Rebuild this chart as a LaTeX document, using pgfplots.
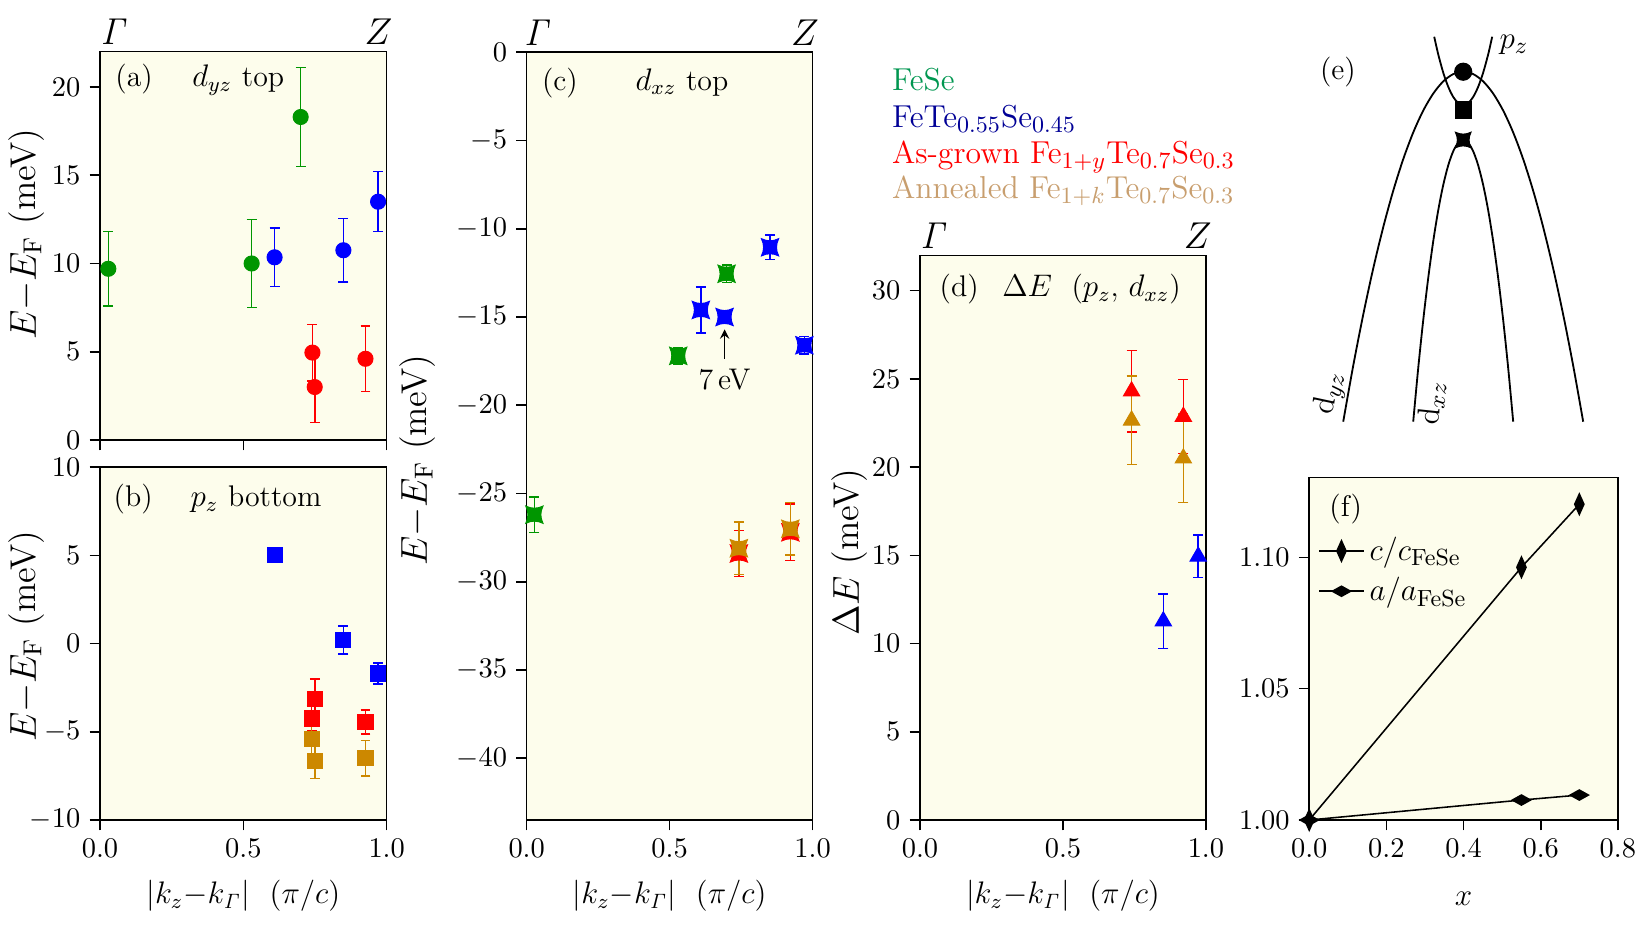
\documentclass[border=0pt]{standalone}
\usepackage{amsmath}
\usepackage{pgfplots}
\pgfplotsset{compat=1.18}
\definecolor{bgc}{RGB}{253,253,236}
\definecolor{cg}{RGB}{0,150,0}
\definecolor{cb}{RGB}{0,0,255}
\definecolor{cr}{RGB}{255,0,0}
\definecolor{co}{RGB}{204,136,0}
\definecolor{tg}{RGB}{0,150,80}
\definecolor{tb}{RGB}{0,0,150}
\definecolor{tt}{RGB}{200,158,110}

\pgfdeclareplotmark{astar}{%
  \pgfpathmoveto{\pgfqpoint{-\pgfplotmarksize}{\pgfplotmarksize}}%
  \pgfpathquadraticcurveto{\pgfqpoint{0pt}{0.5\pgfplotmarksize}}{\pgfqpoint{\pgfplotmarksize}{\pgfplotmarksize}}%
  \pgfpathquadraticcurveto{\pgfqpoint{0.5\pgfplotmarksize}{0pt}}{\pgfqpoint{\pgfplotmarksize}{-\pgfplotmarksize}}%
  \pgfpathquadraticcurveto{\pgfqpoint{0pt}{-0.5\pgfplotmarksize}}{\pgfqpoint{-\pgfplotmarksize}{-\pgfplotmarksize}}%
  \pgfpathquadraticcurveto{\pgfqpoint{-0.5\pgfplotmarksize}{0pt}}{\pgfqpoint{-\pgfplotmarksize}{\pgfplotmarksize}}%
  \pgfpathclose
  \pgfusepathqfillstroke}

\tikzset{
  toplab/.style={font=\fontsize{13.5}{15}\selectfont, inner sep=0pt},
  plab/.style={font=\fontsize{11.5}{13}\selectfont, inner sep=0pt, anchor=base west},
  xlab/.style={font=\fontsize{11.5}{13}\selectfont, anchor=center},
}
\pgfplotsset{
  panel/.style={
    scale only axis, anchor=south west, clip=false,
    axis background/.style={fill=bgc},
    axis line style={line width=0.6pt},
    tick align=outside, xtick pos=bottom, ytick pos=left,
    major tick length=4pt,
    every tick/.style={black, line width=0.6pt},
    tick label style={font=\fontsize{11}{13}\selectfont},
    xmin=0, xmax=1, xtick={0,0.5,1},
    xticklabel style={/pgf/number format/.cd, fixed, fixed zerofill, precision=1},
    every axis y label/.style={rotate=90, anchor=center, font=\fontsize{13.8}{16}\selectfont},
  },
  ebar/.style={only marks, color=#1, mark options={fill=#1, draw=#1},
    error bars/.cd, y dir=both, y explicit,
    error bar style={line width=0.6pt, color=#1},
    error mark options={rotate=90, mark size=1.9pt, line width=0.6pt, color=#1},
    /pgfplots/.cd},
}
\newcommand{\kxlabel}{$|k_z{-}k_{\mathit{\Gamma}}|$\ \ $(\pi/c)$}
\newcommand{\eylabel}{$E{-}E_{\mathrm{F}}$\ (meV)}

\begin{document}
\begin{tikzpicture}
\path[use as bounding box] (0,0) rectangle (634.9pt,360pt);

% ---------------- (a)
\begin{axis}[panel, at={(38.5pt,190.6pt)}, width=110.38pt, height=149.5pt,
  ymin=0, ymax=22, ytick={0,5,10,15,20}, xticklabels={},
  ylabel={\eylabel}, ylabel style={at={(axis description cs:-0.255,0.53)}}]
\addplot+[mark=*, mark size=2.9pt, ebar=cg] coordinates {
 (0.029,9.7) +- (0,2.1)
 (0.529,10.0) +- (0,2.5)
 (0.700,18.3) +- (0,2.8)};
\addplot+[mark=*, mark size=2.9pt, ebar=cb] coordinates {
 (0.609,10.35) +- (0,1.65)
 (0.849,10.75) +- (0,1.8)
 (0.970,13.5) +- (0,1.7)};
\addplot+[mark=*, mark size=2.9pt, ebar=cr] coordinates {
 (0.741,4.95) +- (0,1.6)
 (0.749,3.0) +- (0,2.0)
 (0.926,4.6) +- (0,1.85)};
\node[toplab, anchor=base west, yshift=2.6pt] at (rel axis cs:0,1) {$\mathit{\Gamma}$};
\node[toplab, anchor=base east, yshift=2.6pt, xshift=2.4pt] at (rel axis cs:1,1) {$Z$};
\node[plab] at (axis cs:0.052,20) {(a)};
\node[plab] at (axis cs:0.32,20) {$d_{yz}$ top};
\end{axis}

% ---------------- (b)
\begin{axis}[panel, at={(38.5pt,44.28pt)}, width=110.38pt, height=135.9pt,
  ymin=-10, ymax=10, ytick={-10,-5,0,5,10},
  ylabel={\eylabel}, ylabel style={at={(axis description cs:-0.255,0.52)}}]
\addplot+[mark=square*, mark size=2.9pt, ebar=cb] coordinates {
 (0.609,5.0) +- (0,0)
 (0.849,0.2) +- (0,0.8)
 (0.970,-1.7) +- (0,0.6)};
\addplot+[mark=square*, mark size=2.9pt, ebar=cr] coordinates {
 (0.749,-3.15) +- (0,1.15)
 (0.738,-4.25) +- (0,0.7)
 (0.926,-4.45) +- (0,0.68)};
\addplot+[mark=square*, mark size=2.9pt, ebar=co] coordinates {
 (0.738,-5.4) +- (0,1.0)
 (0.749,-6.65) +- (0,1.0)
 (0.926,-6.5) +- (0,1.0)};
\node[plab] at (axis cs:0.046,7.75) {(b)};
\node[plab] at (axis cs:0.314,7.75) {$p_z$ bottom};
\node[xlab, yshift=-29.3pt] at (rel axis cs:0.5,0) {\kxlabel};
\end{axis}

% ---------------- (c)
\begin{axis}[panel, at={(202.78pt,44.28pt)}, width=110.11pt, height=295.6pt,
  ymin=-43.5, ymax=0, ytick={0,-5,-10,-15,-20,-25,-30,-35,-40},
  ylabel={\eylabel}, ylabel style={at={(axis description cs:-0.38,0.469)}}]
\addplot+[mark=astar, mark size=3.3pt, ebar=cg] coordinates {
 (0.027,-26.2) +- (0,1.0)
 (0.530,-17.2) +- (0,0.45)
 (0.699,-12.55) +- (0,0.5)};
\addplot+[mark=astar, mark size=3.3pt, ebar=cb] coordinates {
 (0.609,-14.6) +- (0,1.3)
 (0.692,-15.0) +- (0,0)
 (0.851,-11.05) +- (0,0.7)
 (0.971,-16.6) +- (0,0.5)};
\addplot+[mark=astar, mark size=3.3pt, ebar=cr] coordinates {
 (0.742,-28.4) +- (0,1.3)
 (0.922,-27.2) +- (0,1.6)};
\addplot+[mark=astar, mark size=3.3pt, ebar=co] coordinates {
 (0.742,-28.1) +- (0,1.5)
 (0.922,-27.0) +- (0,1.5)};
\draw[-stealth, line width=0.6pt] (axis cs:0.692,-17.36) -- (axis cs:0.692,-15.7);
\node[font=\fontsize{11.5}{13}\selectfont] at (axis cs:0.692,-18.55) {7\,eV};
\node[toplab, anchor=base west, yshift=2.6pt, xshift=-1.2pt] at (rel axis cs:0,1) {$\mathit{\Gamma}$};
\node[toplab, anchor=base east, yshift=2.6pt, xshift=2.6pt] at (rel axis cs:1,1) {$Z$};
\node[plab] at (axis cs:0.052,-2.14) {(c)};
\node[plab] at (axis cs:0.379,-2.14) {$d_{xz}$ top};
\node[xlab, yshift=-29.3pt] at (rel axis cs:0.5,0) {\kxlabel};
\end{axis}

% ---------------- (d)
\begin{axis}[panel, at={(354.2pt,44.28pt)}, width=110.11pt, height=217.4pt,
  ymin=0, ymax=32, ytick={0,5,10,15,20,25,30},
  ylabel={$\Delta E$ (meV)}, ylabel style={at={(axis description cs:-0.245,0.474)}}]
\addplot+[mark=triangle*, mark size=3.6pt, ebar=cr] coordinates {
 (0.740,24.3) +- (0,2.3)
 (0.921,22.86) +- (0,2.1)};
\addplot+[mark=triangle*, mark size=3.6pt, ebar=co] coordinates {
 (0.740,22.65) +- (0,2.5)
 (0.921,20.5) +- (0,2.5)};
\addplot+[mark=triangle*, mark size=3.6pt, ebar=cb] coordinates {
 (0.851,11.27) +- (0,1.55)
 (0.973,14.94) +- (0,1.2)};
\node[toplab, anchor=base west, yshift=2.6pt] at (rel axis cs:0,1) {$\mathit{\Gamma}$};
\node[toplab, anchor=base east, yshift=2.6pt, xshift=2.4pt] at (rel axis cs:1,1) {$Z$};
\node[plab] at (axis cs:0.067,29.65) {(d)};
\node[plab] at (axis cs:0.286,29.65) {$\Delta E$\ \ ($p_z$,\ $d_{xz}$)};
\node[xlab, yshift=-29.3pt] at (rel axis cs:0.5,0) {\kxlabel};
\end{axis}

% ---------------- legend text
\node[anchor=base west, inner sep=0pt, font=\fontsize{12.2}{14}\selectfont, text=tg] at (343.3pt,325.06pt) {FeSe};
\node[anchor=base west, inner sep=0pt, font=\fontsize{12.2}{14}\selectfont, text=tb] at (343.3pt,310.96pt) {FeTe$_{0.55}$Se$_{0.45}$};
\node[anchor=base west, inner sep=0pt, font=\fontsize{12.2}{14}\selectfont, text=cr] at (343.3pt,297.1pt) {As-grown Fe$_{1+y}$Te$_{0.7}$Se$_{0.3}$};
\node[anchor=base west, inner sep=0pt, font=\fontsize{12.2}{14}\selectfont, text=tt] at (343.3pt,283.6pt) {Annealed Fe$_{1+k}$Te$_{0.7}$Se$_{0.3}$};

% ---------------- (e) schematic
\begin{axis}[scale only axis, anchor=south west, at={(481.25pt,190.6pt)},
  width=153.6pt, height=169.4pt, xmin=1250, xmax=1649, ymin=0, ymax=440,
  y dir=reverse, hide axis, clip=false]
\addplot[black, line width=0.7pt, smooth] coordinates {
 (1343.3,421.7) (1353.3,365.7) (1363.3,314.7) (1373.3,268.5) (1383.3,227.2)
 (1393.3,190.8) (1403.3,159.2) (1413.3,132.5) (1423.3,110.6) (1433.3,93.6)
 (1443.3,81.4) (1453.3,74.1) (1463.3,71.7) (1473.3,74.1) (1483.3,81.4)
 (1493.3,93.6) (1503.3,110.6) (1513.3,132.5) (1523.3,159.2) (1533.3,190.8)
 (1543.3,227.2) (1553.3,268.5) (1563.3,314.7) (1573.3,365.7) (1583.3,421.7)};
\addplot[black, line width=0.7pt, smooth] coordinates {
 (1413.3,421.7) (1418.3,368.2) (1423.3,320.3) (1428.3,278.1) (1433.3,241.4)
 (1438.3,210.4) (1443.3,185.1) (1448.3,165.4) (1453.3,151.3) (1458.3,142.8)
 (1463.3,140) (1468.3,142.8) (1473.3,151.3) (1478.3,165.4) (1483.3,185.1)
 (1488.3,210.4) (1493.3,241.4) (1498.3,278.1) (1503.3,320.3) (1508.3,368.2)
 (1513.3,421.7)};
\addplot[black, line width=0.7pt, smooth] coordinates {
 (1434.3,36.7) (1438.3,54.25) (1443.3,72.5) (1448.3,86.7) (1453.3,96.9)
 (1458.3,103) (1463.3,105) (1468.3,103) (1473.3,96.9) (1478.3,86.7)
 (1483.3,72.5) (1488.3,54.25) (1492.3,36.7)};
\addplot[only marks, black, mark=*, mark size=3.3pt] coordinates {(1463.3,71.7)};
\addplot[only marks, black, mark=square*, mark size=3.1pt] coordinates {(1463.3,110)};
\addplot[only marks, black, mark=astar, mark size=3.0pt] coordinates {(1463.3,140)};
\node[font=\fontsize{11.5}{13}\selectfont] at (axis cs:1338,71.7) {(e)};
\node[font=\fontsize{12.5}{14}\selectfont] at (axis cs:1514,45) {$p_z$};
\node[font=\fontsize{12.5}{14}\selectfont, rotate=78] at (axis cs:1330,393) {$\mathrm{d}_{yz}$};
\node[font=\fontsize{12.5}{14}\selectfont, rotate=84] at (axis cs:1431.7,403) {$\mathrm{d}_{xz}$};
\end{axis}

% ---------------- (f)
\begin{axis}[panel, at={(504.08pt,44.28pt)}, width=118.85pt, height=131.8pt,
  xmin=0, xmax=0.8, xtick={0,0.2,0.4,0.6,0.8},
  ymin=1.0, ymax=1.1303, ytick={1.0,1.05,1.1},
  yticklabel style={/pgf/number format/.cd, fixed, fixed zerofill, precision=2},
  legend style={at={(0.02,0.85)}, anchor=north west, draw=none, fill=none,
    font=\fontsize{13}{15}\selectfont, row sep=1pt, inner sep=1pt},
  legend cell align=left]
\addplot[black, line width=0.6pt, mark=diamond*, mark size=3.9pt, mark options={xscale=0.6}] coordinates {
 (0,1.0) (0.55,1.0962) (0.70,1.1202)};
\addlegendentry{$c/c_{\mathrm{FeSe}}$}
\addplot[black, line width=0.6pt, mark=diamond*, mark size=3.5pt, mark options={xscale=1.32, yscale=0.55}] coordinates {
 (0,1.0) (0.55,1.0076) (0.70,1.0095)};
\addlegendentry{$a/a_{\mathrm{FeSe}}$}
\node[plab] at (axis cs:0.051,1.1155) {(f)};
\node[font=\fontsize{13}{15}\selectfont, anchor=center, yshift=-30.4pt] at (rel axis cs:0.5,0) {$x$};
\end{axis}
\end{tikzpicture}
\end{document}
